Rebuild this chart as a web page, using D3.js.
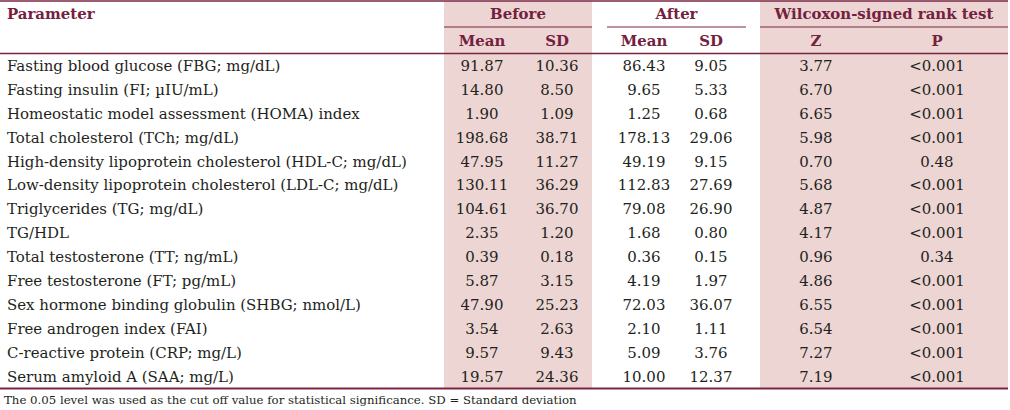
<!DOCTYPE html>
<html><head><meta charset="utf-8">
<script src="https://cdn.jsdelivr.net/npm/d3@7"></script>
<style>
html,body{margin:0;padding:0;background:#fff;}
svg{display:block;}
</style></head>
<body>
<svg id="t" width="1010" height="410"></svg>
<script>
const parameters = [
  "Fasting blood glucose (FBG; mg/dL)",
  "Fasting insulin (FI; \u00b5IU/mL)",
  "Homeostatic model assessment (HOMA) index",
  "Total cholesterol (TCh; mg/dL)",
  "High-density lipoprotein cholesterol (HDL-C; mg/dL)",
  "Low-density lipoprotein cholesterol (LDL-C; mg/dL)",
  "Triglycerides (TG; mg/dL)",
  "TG/HDL",
  "Total testosterone (TT; ng/mL)",
  "Free testosterone (FT; pg/mL)",
  "Sex hormone binding globulin (SHBG; nmol/L)",
  "Free androgen index (FAI)",
  "C-reactive protein (CRP; mg/L)",
  "Serum amyloid A (SAA; mg/L)"
];
const beforeMean = [91.87,14.80,1.90,198.68,47.95,130.11,104.61,2.35,0.39,5.87,47.90,3.54,9.57,19.57];
const beforeSD   = [10.36,8.50,1.09,38.71,11.27,36.29,36.70,1.20,0.18,3.15,25.23,2.63,9.43,24.36];
const afterMean  = [86.43,9.65,1.25,178.13,49.19,112.83,79.08,1.68,0.36,4.19,72.03,2.10,5.09,10.00];
const afterSD    = [9.05,5.33,0.68,29.06,9.15,27.69,26.90,0.80,0.15,1.97,36.07,1.11,3.76,12.37];
const zValues    = [3.77,6.70,6.65,5.98,0.70,5.68,4.87,4.17,0.96,4.86,6.55,6.54,7.27,7.19];
const pValues    = ["<0.001","<0.001","<0.001","<0.001","0.48","<0.001","<0.001","<0.001","0.34","<0.001","<0.001","<0.001","<0.001","<0.001"];
const groupLabels = ["Before","After","Wilcoxon-signed rank test"];
const subLabels = ["Mean","SD","Mean","SD","Z","P"];
const footnote = "The 0.05 level was used as the cut off value for statistical significance. SD = Standard deviation";

// layout
const W = 1008;
const lineColor = "#7a2443", headColor = "#74203f", shade = "#ecd5d3", textColor = "#231f20";
const serif = "'DejaVu Serif', 'Liberation Serif', serif";
const groups = [
  {x0:444, x1:592, shaded:true, line0:444, line1:592},
  {x0:600, x1:746, shaded:false, line0:607, line1:746},
  {x0:760, x1:1008, shaded:true, line0:760, line1:1008}
];
const colCenters = [482, 557, 644, 711, 816, 937];
const yTop = 1, ySub = 27, yHead = 53.5, yBottom = 388.5;

const svg = d3.select("#t");
const fmt = d3.format(".2f");

// fit font size helper
function fitSize(str, target, weight){
  const t = svg.append("text").attr("font-family", serif).attr("font-size", 100).attr("font-weight", weight||"normal").text(str);
  const w = t.node().getComputedTextLength();
  t.remove();
  return 100*target/w;
}
const bodySize = Math.min(16, fitSize("Homeostatic model assessment (HOMA) index", 353));
const headSize = Math.min(16, fitSize("Wilcoxon-signed rank test", 219, "bold"));
const footSize = Math.min(13, fitSize(footnote, 573));

const y = d3.scaleBand().domain(d3.range(parameters.length)).range([yHead, yBottom]);

// shading
svg.selectAll("rect.shade").data(groups.filter(g=>g.shaded)).join("rect")
  .attr("x", d=>d.x0).attr("y", yTop).attr("width", d=>d.x1-d.x0).attr("height", yBottom-yTop)
  .attr("fill", shade);

// lines
const hl = (x0,x1,yy,w)=>svg.append("line").attr("x1",x0).attr("x2",x1).attr("y1",yy).attr("y2",yy)
  .attr("stroke", lineColor).attr("stroke-width", w||1.5);
hl(0, W, yTop, 1.6);
groups.forEach(g=>hl(g.line0, g.line1, ySub, 1.2));
hl(0, W, yHead, 1.6);
hl(0, W, yBottom, 1.8);

// header text
svg.append("text").attr("x", 7).attr("y", (yTop+ySub)/2).attr("dy","0.36em")
  .attr("font-family", serif).attr("font-weight","bold").attr("font-size", headSize)
  .attr("fill", headColor).text("Parameter");
svg.selectAll("text.group").data(groupLabels).join("text")
  .attr("x", (d,i)=>(groups[i].line0+groups[i].line1)/2).attr("y", (yTop+ySub)/2).attr("dy","0.36em")
  .attr("text-anchor","middle").attr("font-family", serif).attr("font-weight","bold")
  .attr("font-size", headSize).attr("fill", headColor).text(d=>d);
svg.selectAll("text.sub").data(subLabels).join("text")
  .attr("x", (d,i)=>colCenters[i]).attr("y", (ySub+yHead)/2).attr("dy","0.36em")
  .attr("text-anchor","middle").attr("font-family", serif).attr("font-weight","bold")
  .attr("font-size", headSize).attr("fill", headColor).text(d=>d);

// body
const rows = parameters.map((p,i)=>({i, cells:[fmt(beforeMean[i]),fmt(beforeSD[i]),fmt(afterMean[i]),fmt(afterSD[i]),fmt(zValues[i]),pValues[i]]}));
const rowG = svg.selectAll("g.row").data(rows).join("g")
  .attr("transform", d=>`translate(0,${y(d.i)+y.bandwidth()/2})`);
rowG.append("text").attr("x", 7).attr("dy","0.36em").attr("font-family", serif)
  .attr("font-size", bodySize).attr("fill", textColor).text(d=>parameters[d.i]);
rowG.selectAll("text.cell").data(d=>d.cells).join("text")
  .attr("x", (d,j)=>colCenters[j]).attr("dy","0.36em").attr("text-anchor","middle")
  .attr("font-family", serif).attr("font-size", bodySize).attr("fill", textColor).text(d=>d);

// footnote
svg.append("text").attr("x", 4).attr("y", 404).attr("font-family", serif)
  .attr("font-size", footSize).attr("fill", textColor).text(footnote);
</script>
</body></html>
